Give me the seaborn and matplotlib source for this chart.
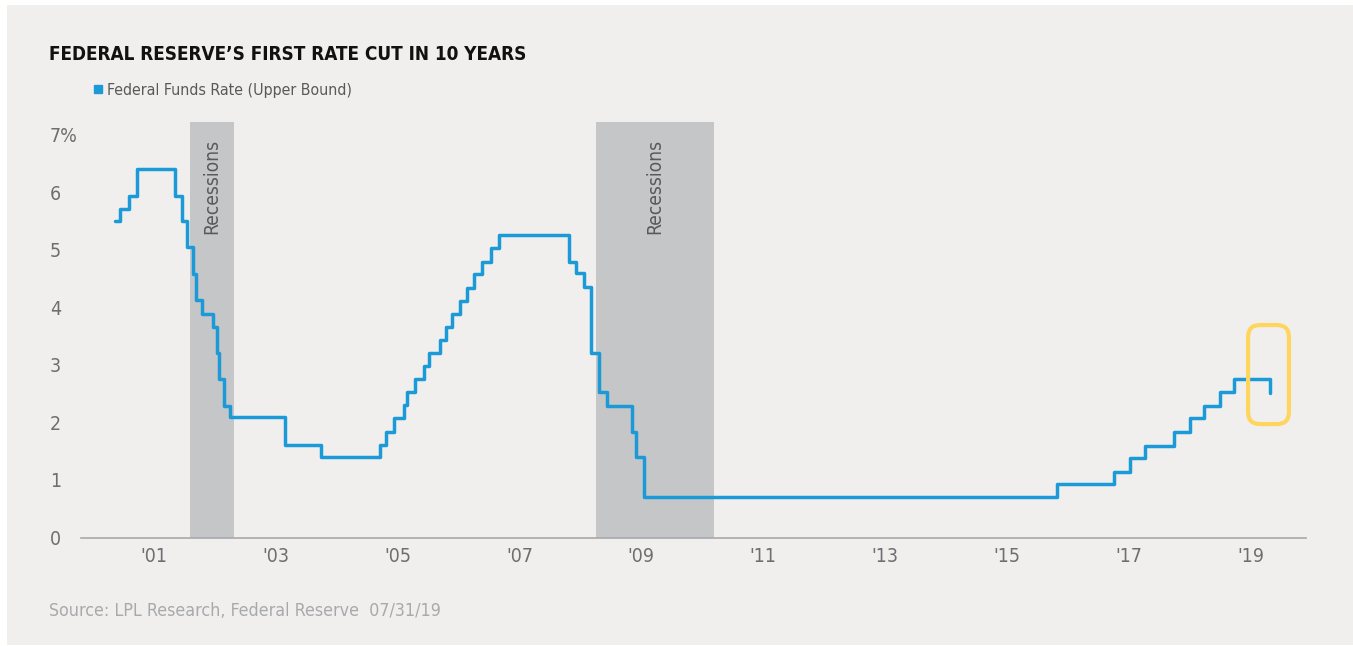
import os
import matplotlib
matplotlib.use("Agg")
import matplotlib.pyplot as plt
from matplotlib import font_manager
from matplotlib.font_manager import FontProperties
from matplotlib.patches import Rectangle, FancyBboxPatch
from matplotlib.lines import Line2D
import seaborn as sns
import pandas as pd

# ---------------- data (chart's own decimal-year axis) ----------------
dates = [2000.37, 2000.45, 2000.60, 2000.73, 2001.35, 2001.46, 2001.55, 2001.64,
         2001.69, 2001.79, 2001.97, 2002.04, 2002.08, 2002.16, 2002.26, 2003.16,
         2003.75, 2004.72, 2004.81, 2004.95, 2005.10, 2005.15, 2005.29, 2005.43,
         2005.52, 2005.70, 2005.80, 2005.89, 2006.03, 2006.14, 2006.26, 2006.39,
         2006.53, 2006.67, 2007.82, 2007.93, 2008.06, 2008.18, 2008.31, 2008.44,
         2008.84, 2008.91, 2009.05, 2015.81, 2016.75, 2017.02, 2017.26, 2017.73,
         2018.00, 2018.23, 2018.49, 2018.72, 2019.31]
rate = [5.49, 5.71, 5.94, 6.40, 5.94, 5.49, 5.04, 4.58,
        4.13, 3.89, 3.65, 3.20, 2.75, 2.29, 2.09, 1.61,
        1.39, 1.61, 1.84, 2.07, 2.30, 2.52, 2.75, 2.98,
        3.20, 3.43, 3.65, 3.88, 4.11, 4.34, 4.58, 4.79,
        5.02, 5.25, 4.79, 4.59, 4.35, 3.21, 2.52, 2.29,
        1.84, 1.39, 0.71, 0.93, 1.14, 1.38, 1.59, 1.84,
        2.07, 2.29, 2.53, 2.75, 2.51]
rec_start = [2001.59, 2008.25]
rec_end = [2002.32, 2010.19]
xtick_years = [2001, 2003, 2005, 2007, 2009, 2011, 2013, 2015, 2017, 2019]
xtick_labels = ["'01", "'03", "'05", "'07", "'09", "'11", "'13", "'15", "'17", "'19"]
ytick_vals = [0, 1, 2, 3, 4, 5, 6, 7]
ytick_labels = ["0", "1", "2", "3", "4", "5", "6", "7%"]

title = "FEDERAL RESERVE\u2019S FIRST RATE CUT IN 10 YEARS"
series_name = "Federal Funds Rate (Upper Bound)"
source = "Source: LPL Research, Federal Reserve  07/31/19"

# ---------------- style ----------------
BLUE = "#1c9ad8"
REC = "#c5c6c8"
BG = "#f0efee"
TICK = "#6d6e71"

sns.set_style("white")
plt.rcParams["font.family"] = ["Liberation Sans", "DejaVu Sans"]

# condensed faces are closest to the original's condensed type
files = {os.path.basename(f.fname).lower(): f.fname for f in font_manager.fontManager.ttflist}


def pick(*names):
    for n in names:
        if n in files:
            return FontProperties(fname=files[n])
    return None


fp_reg = pick("dejavusanscondensed.ttf", "liberationsansnarrow-regular.ttf")
fp_bold = pick("dejavusanscondensed-bold.ttf", "liberationsansnarrow-bold.ttf")


def fprop(base, size, bold=False):
    if base is None:
        p = FontProperties(family=["Liberation Sans", "DejaVu Sans"],
                           weight="bold" if bold else "normal")
        p.set_size(size * 0.9)
        return p
    p = base.copy()
    p.set_size(size)
    return p


W, H = 1353, 646
fig = plt.figure(figsize=(W / 100, H / 100), dpi=100, facecolor="white")
fig.patches.append(Rectangle((7 / W, 1 / H), 1 - 7 / W, 640 / H,
                             transform=fig.transFigure, facecolor=BG,
                             edgecolor="none", zorder=-10))

ax = fig.add_axes([81 / W, (H - 537.5) / H, (1306 - 81) / W, (537.5 - 122) / H])
ax.set_facecolor("none")

df = pd.DataFrame({"date": dates, "rate": rate})
sns.lineplot(data=df, x="date", y="rate", ax=ax, color=BLUE, lw=2.5,
             drawstyle="steps-post", estimator=None, legend=False, zorder=3)

for s, e in zip(rec_start, rec_end):
    ax.axvspan(s, e, color=REC, lw=0, zorder=1)
    ax.text((s + e) / 2, 6.92, "Recessions", rotation=90, ha="center", va="top",
            fontproperties=fprop(fp_reg, 13.8), color="#58595b", zorder=2)

ax.set_xlim(1999.81, 2019.90)
ax.set_ylim(0, 7.217)
ax.set_xticks(xtick_years)
ax.set_xticklabels(xtick_labels)
ax.set_yticks(ytick_vals)
ax.set_yticklabels(ytick_labels)
ax.set_xlabel("")
ax.set_ylabel("")
ax.tick_params(axis="x", length=0, pad=6.5, labelcolor=TICK)
ax.tick_params(axis="y", length=0, pad=22.5, labelcolor=TICK)
for lbl in ax.get_xticklabels():
    lbl.set_fontproperties(fprop(fp_reg, 14))
for lbl in ax.get_yticklabels():
    lbl.set_fontproperties(fprop(fp_reg, 14))
    lbl.set_horizontalalignment("left")
for side in ["top", "right", "left"]:
    ax.spines[side].set_visible(False)
ax.spines["bottom"].set_color("#a7a9ac")
ax.spines["bottom"].set_linewidth(1.2)
ax.grid(False)

# highlight around the latest cut (pixel-space rounded box)
x0, y0 = ax.transData.transform((dates[-1] - 0.36, 1.97))
x1, y1 = ax.transData.transform((dates[-1] + 0.31, 3.69))
hl = FancyBboxPatch((x0 + 12, y0 + 12), (x1 - x0) - 24, (y1 - y0) - 24,
                    boxstyle="round,pad=12", transform=None,
                    facecolor="none", edgecolor="#fed65e", lw=3.0, zorder=4)
ax.add_artist(hl)

# legend
handle = Line2D([], [], marker="s", linestyle="none", color=BLUE, markersize=5.5)
fig.legend([handle], [series_name], loc="center left",
           bbox_to_anchor=(90 / W, 1 - 90 / H), frameon=False,
           handletextpad=0.05, handlelength=1.0, borderpad=0, borderaxespad=0,
           prop=fprop(fp_reg, 11.4), labelcolor="#58595b")

fig.text(49 / W, 1 - 54 / H, title, ha="left", va="center",
         fontproperties=fprop(fp_bold, 13.6, bold=True), color="#111111")
fig.text(49 / W, 1 - 611 / H, source, ha="left", va="center",
         fontproperties=fprop(fp_reg, 12.8), color="#a7a9ac")

fig.savefig("out.png", dpi=100, facecolor="white")
